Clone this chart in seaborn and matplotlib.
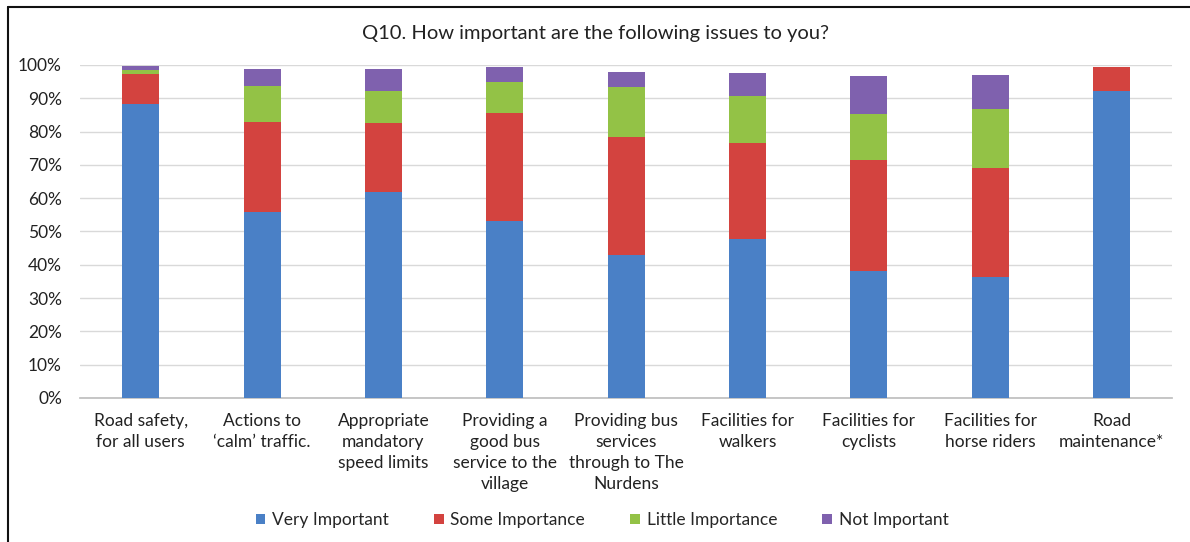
import matplotlib
matplotlib.use("Agg")
import matplotlib.pyplot as plt
import seaborn as sns
import pandas as pd
import numpy as np
from matplotlib.patches import Patch
from matplotlib.lines import Line2D

categories = ["Road safety,\nfor all users", "Actions to\n‘calm’ traffic.", "Appropriate\nmandatory\nspeed limits",
              "Providing a\ngood bus\nservice to the\nvillage", "Providing bus\nservices\nthrough to The\nNurdens",
              "Facilities for\nwalkers", "Facilities for\ncyclists", "Facilities for\nhorse riders", "Road\nmaintenance*"]
very_important = [88.2, 56.0, 62.0, 53.0, 43.0, 47.7, 38.0, 36.2, 92.3]
some_importance = [9.2, 26.8, 20.7, 32.5, 35.3, 29.0, 33.5, 32.8, 7.0]
little_importance = [1.2, 10.8, 9.4, 9.4, 15.2, 14.1, 13.7, 17.7, 0.0]
not_important = [1.0, 5.2, 6.6, 4.4, 4.5, 6.7, 11.5, 10.3, 0.0]
series_names = ["Very Important", "Some Importance", "Little Importance", "Not Important"]
colors = ["#4A80C6", "#D3433F", "#93C246", "#7F61AE"]

sns.set_theme(style="white")
plt.rcParams['font.family'] = ['Lato', 'DejaVu Sans']

fig = plt.figure(figsize=(11.9, 5.42), dpi=100)
ax = fig.add_axes([0.0672, 0.2657, 0.918, 0.6144])

series = [very_important, some_importance, little_importance, not_important]
cum = np.cumsum(np.array(series), axis=0)
for i in range(3, -1, -1):
    df = pd.DataFrame({"cat": categories, "val": cum[i]})
    sns.barplot(data=df, x="cat", y="val", color=colors[i], width=0.305,
                saturation=1, ax=ax, zorder=3, linewidth=0)

ax.set_ylim(0, 100)
ax.set_xlim(-0.5, len(categories) - 0.5)
ax.set_yticks(np.arange(0, 101, 10))
ax.set_yticklabels([f"{v}%" for v in range(0, 101, 10)], fontsize=12.5)
ax.yaxis.grid(True, color="#D9D9D9", linewidth=1, zorder=0)
ax.set_axisbelow(True)
ax.tick_params(axis="x", labelsize=12.5, length=0, pad=11)
ax.tick_params(axis="y", length=0, pad=13)
ax.set_xlabel("")
ax.set_ylabel("")
for s in ["top", "left", "right"]:
    ax.spines[s].set_visible(False)
ax.spines["bottom"].set_color("#BFBFBF")
for lbl in ax.get_xticklabels():
    lbl.set_linespacing(1.38)
    lbl.set_color("#222222")
for lbl in ax.get_yticklabels():
    lbl.set_color("#222222")

fig.suptitle("Q10. How important are the following issues to you?", y=0.953, fontsize=14.5, color="#222222")

handles = [Patch(facecolor=c, edgecolor="none", label=n) for c, n in zip(colors, series_names)]
fig.legend(handles=handles, loc="center", bbox_to_anchor=(0.506, 0.04), ncol=4, frameon=False,
           fontsize=12.5, handlelength=0.55, handleheight=0.55, handletextpad=0.4, columnspacing=2.6)

fig.lines.append(Line2D([8 / 1190, 1.0], [1 - 7 / 542, 1 - 7 / 542], transform=fig.transFigure,
                        color="#111111", linewidth=1.5))
fig.lines.append(Line2D([8 / 1190, 8 / 1190], [0.0, 1 - 7 / 542], transform=fig.transFigure,
                        color="#111111", linewidth=1.5))

fig.savefig("out.png", dpi=100)
